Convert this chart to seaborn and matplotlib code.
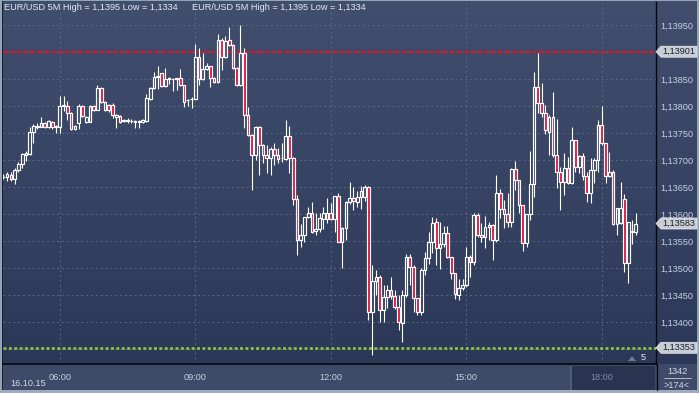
import numpy as np
import pandas as pd
import matplotlib
matplotlib.use("Agg")
import matplotlib.pyplot as plt
import matplotlib.transforms as mtransforms
from matplotlib.patches import Polygon
from matplotlib.lines import Line2D
from matplotlib.ticker import MultipleLocator, FuncFormatter
import seaborn as sns

# EUR/USD 5 minute candles, 16.10.15 04:45 - 18:45
opens = [
    1.13669, 1.13670, 1.13672, 1.13666, 1.13682, 1.13693, 1.13710, 1.13711, 1.13752, 1.13762,
    1.13762, 1.13769, 1.13761, 1.13770, 1.13762, 1.13762, 1.13801, 1.13801, 1.13787, 1.13758,
    1.13769, 1.13801, 1.13771, 1.13771, 1.13801, 1.13793, 1.13834, 1.13793, 1.13803, 1.13803,
    1.13780, 1.13782, 1.13773, 1.13773, 1.13773, 1.13771, 1.13772, 1.13771, 1.13773, 1.13814,
    1.13834, 1.13854, 1.13862, 1.13838, 1.13851, 1.13851, 1.13852, 1.13853, 1.13840, 1.13811,
    1.13813, 1.13814, 1.13891, 1.13851, 1.13869, 1.13875, 1.13853, 1.13845, 1.13923, 1.13891,
    1.13923, 1.13914, 1.13871, 1.13840, 1.13899, 1.13784, 1.13747, 1.13710, 1.13762, 1.13728,
    1.13710, 1.13704, 1.13721, 1.13710, 1.13704, 1.13703, 1.13745, 1.13704, 1.13628, 1.13553,
    1.13562, 1.13595, 1.13602, 1.13569, 1.13573, 1.13591, 1.13591, 1.13602, 1.13591, 1.13634,
    1.13549, 1.13575, 1.13623, 1.13630, 1.13623, 1.13632, 1.13632, 1.13651, 1.13419, 1.13477,
    1.13484, 1.13423, 1.13447, 1.13460, 1.13449, 1.13428, 1.13399, 1.13451, 1.13521, 1.13503,
    1.13445, 1.13419, 1.13497, 1.13519, 1.13549, 1.13586, 1.13538, 1.13545, 1.13566, 1.13521,
    1.13491, 1.13451, 1.13464, 1.13469, 1.13521, 1.13512, 1.13599, 1.13562, 1.13558, 1.13577,
    1.13580, 1.13553, 1.13640, 1.13610, 1.13601, 1.13586, 1.13684, 1.13664, 1.13617, 1.13547,
    1.13601, 1.13656, 1.13836, 1.13806, 1.13788, 1.13753, 1.13780, 1.13710, 1.13678, 1.13660,
    1.13686, 1.13658, 1.13738, 1.13688, 1.13708, 1.13671, 1.13640, 1.13682, 1.13701, 1.13766,
    1.13732, 1.13671, 1.13678, 1.13582, 1.13584, 1.13628, 1.13510, 1.13567, 1.13567,
]
highs = [
    1.13675, 1.13679, 1.13678, 1.13686, 1.13696, 1.13713, 1.13717, 1.13762, 1.13767, 1.13769,
    1.13780, 1.13771, 1.13775, 1.13773, 1.13766, 1.13819, 1.13819, 1.13809, 1.13789, 1.13766,
    1.13804, 1.13803, 1.13782, 1.13803, 1.13803, 1.13840, 1.13836, 1.13810, 1.13804, 1.13806,
    1.13786, 1.13784, 1.13777, 1.13778, 1.13777, 1.13775, 1.13775, 1.13777, 1.13823, 1.13836,
    1.13864, 1.13875, 1.13862, 1.13871, 1.13854, 1.13853, 1.13853, 1.13869, 1.13840, 1.13814,
    1.13817, 1.13916, 1.13908, 1.13899, 1.13880, 1.13875, 1.13854, 1.13934, 1.13927, 1.13930,
    1.13947, 1.13916, 1.13873, 1.13950, 1.13908, 1.13799, 1.13749, 1.13764, 1.13764, 1.13730,
    1.13728, 1.13725, 1.13732, 1.13723, 1.13732, 1.13775, 1.13764, 1.13706, 1.13636, 1.13582,
    1.13595, 1.13614, 1.13623, 1.13602, 1.13602, 1.13614, 1.13630, 1.13621, 1.13634, 1.13640,
    1.13577, 1.13625, 1.13660, 1.13651, 1.13643, 1.13653, 1.13654, 1.13653, 1.13506, 1.13497,
    1.13488, 1.13469, 1.13469, 1.13484, 1.13460, 1.13451, 1.13460, 1.13527, 1.13527, 1.13506,
    1.13445, 1.13501, 1.13530, 1.13567, 1.13595, 1.13593, 1.13586, 1.13578, 1.13578, 1.13521,
    1.13491, 1.13480, 1.13480, 1.13540, 1.13525, 1.13602, 1.13602, 1.13584, 1.13597, 1.13586,
    1.13582, 1.13673, 1.13647, 1.13627, 1.13640, 1.13686, 1.13699, 1.13664, 1.13617, 1.13601,
    1.13717, 1.13864, 1.13899, 1.13843, 1.13803, 1.13784, 1.13827, 1.13777, 1.13688, 1.13714,
    1.13706, 1.13762, 1.13738, 1.13710, 1.13714, 1.13678, 1.13704, 1.13704, 1.13775, 1.13801,
    1.13732, 1.13715, 1.13682, 1.13612, 1.13660, 1.13638, 1.13586, 1.13590, 1.13602,
]
lows = [
    1.13666, 1.13662, 1.13662, 1.13656, 1.13678, 1.13686, 1.13699, 1.13710, 1.13732, 1.13758,
    1.13762, 1.13760, 1.13760, 1.13758, 1.13751, 1.13751, 1.13791, 1.13775, 1.13757, 1.13756,
    1.13758, 1.13781, 1.13769, 1.13771, 1.13791, 1.13793, 1.13806, 1.13791, 1.13790, 1.13778,
    1.13760, 1.13769, 1.13771, 1.13769, 1.13769, 1.13760, 1.13760, 1.13769, 1.13771, 1.13812,
    1.13832, 1.13832, 1.13836, 1.13836, 1.13841, 1.13828, 1.13830, 1.13838, 1.13799, 1.13801,
    1.13797, 1.13814, 1.13840, 1.13849, 1.13867, 1.13836, 1.13843, 1.13843, 1.13867, 1.13890,
    1.13912, 1.13869, 1.13838, 1.13838, 1.13760, 1.13745, 1.13645, 1.13701, 1.13673, 1.13695,
    1.13677, 1.13673, 1.13691, 1.13695, 1.13697, 1.13701, 1.13677, 1.13617, 1.13525, 1.13540,
    1.13549, 1.13593, 1.13566, 1.13562, 1.13567, 1.13573, 1.13584, 1.13590, 1.13567, 1.13549,
    1.13501, 1.13553, 1.13619, 1.13608, 1.13614, 1.13610, 1.13625, 1.13404, 1.13340, 1.13451,
    1.13401, 1.13401, 1.13427, 1.13443, 1.13425, 1.13386, 1.13364, 1.13447, 1.13469, 1.13419,
    1.13414, 1.13414, 1.13488, 1.13508, 1.13528, 1.13506, 1.13499, 1.13540, 1.13519, 1.13480,
    1.13443, 1.13441, 1.13460, 1.13466, 1.13484, 1.13506, 1.13558, 1.13549, 1.13538, 1.13553,
    1.13516, 1.13549, 1.13593, 1.13575, 1.13577, 1.13577, 1.13645, 1.13602, 1.13532, 1.13540,
    1.13590, 1.13632, 1.13788, 1.13780, 1.13749, 1.13710, 1.13706, 1.13649, 1.13608, 1.13636,
    1.13656, 1.13656, 1.13678, 1.13677, 1.13664, 1.13623, 1.13621, 1.13658, 1.13678, 1.13728,
    1.13658, 1.13669, 1.13580, 1.13562, 1.13582, 1.13493, 1.13473, 1.13545, 1.13562,
]
closes = [
    1.13670, 1.13674, 1.13666, 1.13682, 1.13694, 1.13711, 1.13713, 1.13752, 1.13764, 1.13764,
    1.13769, 1.13761, 1.13772, 1.13761, 1.13764, 1.13801, 1.13803, 1.13787, 1.13758, 1.13764,
    1.13801, 1.13782, 1.13781, 1.13801, 1.13793, 1.13834, 1.13808, 1.13808, 1.13793, 1.13784,
    1.13784, 1.13771, 1.13774, 1.13774, 1.13772, 1.13772, 1.13771, 1.13775, 1.13816, 1.13834,
    1.13854, 1.13856, 1.13838, 1.13851, 1.13852, 1.13851, 1.13851, 1.13840, 1.13808, 1.13812,
    1.13814, 1.13891, 1.13851, 1.13869, 1.13875, 1.13853, 1.13845, 1.13923, 1.13891, 1.13921,
    1.13914, 1.13871, 1.13840, 1.13899, 1.13784, 1.13747, 1.13710, 1.13762, 1.13728, 1.13710,
    1.13704, 1.13721, 1.13710, 1.13703, 1.13705, 1.13745, 1.13704, 1.13628, 1.13553, 1.13562,
    1.13595, 1.13602, 1.13567, 1.13573, 1.13593, 1.13602, 1.13602, 1.13591, 1.13634, 1.13549,
    1.13575, 1.13623, 1.13630, 1.13625, 1.13632, 1.13643, 1.13651, 1.13419, 1.13477, 1.13484,
    1.13423, 1.13447, 1.13460, 1.13449, 1.13428, 1.13401, 1.13451, 1.13521, 1.13503, 1.13445,
    1.13419, 1.13497, 1.13519, 1.13549, 1.13584, 1.13538, 1.13545, 1.13566, 1.13521, 1.13491,
    1.13453, 1.13464, 1.13469, 1.13521, 1.13512, 1.13599, 1.13562, 1.13558, 1.13577, 1.13580,
    1.13553, 1.13640, 1.13610, 1.13601, 1.13586, 1.13684, 1.13664, 1.13617, 1.13547, 1.13601,
    1.13656, 1.13836, 1.13806, 1.13788, 1.13756, 1.13780, 1.13710, 1.13678, 1.13660, 1.13686,
    1.13658, 1.13738, 1.13688, 1.13708, 1.13671, 1.13640, 1.13682, 1.13701, 1.13766, 1.13732,
    1.13671, 1.13678, 1.13582, 1.13612, 1.13612, 1.13510, 1.13586, 1.13569, 1.13583,
]

start_time = "2015-10-16 04:45"
high_level = 1.13901
low_level = 1.13353
title = "EUR/USD 5M High = 1,1395 Low = 1,1334"
date_label = "16.10.15"
bar_total = "1342"
bars_visible = ">174<"
scale_step = "5"


def fmt_price(v):
    return f"{v:.5f}".replace(".", ",")


tag_prices = [high_level, closes[-1], low_level]


def fmt_tick(v, pos):
    # the price tags cover the scale labels they sit on
    if any(abs(v - t) < 0.00008 for t in tag_prices):
        return ""
    return fmt_price(v)


sns.set_theme(style="dark")
plt.rcParams["font.family"] = ["Liberation Sans", "DejaVu Sans"]

W, H = 699, 393
fig = plt.figure(figsize=(W / 100, H / 100), dpi=100)

# background: gradient panel, time bar, frame
img = np.zeros((H, W, 3))
shade = np.linspace(0, 1, 364)[:, None, None]
top_col = np.array([66, 78, 109]) / 255
bot_col = np.array([43, 56, 87]) / 255
img[:364] = top_col * (1 - shade) + bot_col * shade
img[364:] = np.array([62, 75, 104]) / 255
img[366:390, 570:655] = np.array([41, 52, 80]) / 255
img[366:390, 570:572] = np.array([80, 92, 118]) / 255
img[:, :2] = np.array([150, 162, 182]) / 255
img[:, 2] = np.array([25, 32, 48]) / 255
img[:1, :] = np.array([150, 162, 182]) / 255
img[390:, :] = np.array([160, 170, 188]) / 255
img[:, 697:] = np.array([150, 162, 182]) / 255
bg = fig.add_axes([0, 0, 1, 1])
bg.imshow(img, aspect="auto", extent=(0, W, H, 0), interpolation="nearest")
bg.set_xlim(0, W)
bg.set_ylim(H, 0)
bg.axis("off")

ax = fig.add_axes([3 / W, (H - 364) / H, 653 / W, 362 / H])
ax.set_facecolor("none")

o = np.array(opens)
h = np.array(highs)
l = np.array(lows)
c = np.array(closes)
x = np.arange(len(c))
body_lo = np.minimum(o, c)
body_hi = np.maximum(o, c)
down = c < o

ax.vlines(x, body_hi, h, color="white", linewidth=0.8, zorder=4)
ax.vlines(x, l, body_lo, color="white", linewidth=0.8, zorder=4)
ax.bar(x, body_hi - body_lo, bottom=body_lo, width=0.72,
       color=["#e0143c" if d else "none" for d in down],
       edgecolor="white", linewidth=0.85, zorder=5)

ax.axhline(high_level, color="#e8121e", linewidth=1.5, linestyle=(0, (2.2, 1.1)), zorder=3)
ax.axhline(low_level, color="#8ccf3c", linewidth=1.8, linestyle=(0, (1.2, 0.95)), zorder=3)

ax.set_xlim(-0.1, 173.4)
ax.set_ylim(1.13323, 1.13993)

times = pd.date_range(start_time, periods=len(c), freq="5min")
tick_pos = [i for i, t in enumerate(times) if t.minute == 0 and t.hour % 3 == 0]
ax.set_xticks(tick_pos)
ax.set_xticklabels([times[i].strftime("%H:%M") for i in tick_pos])
ax.yaxis.tick_right()
ax.yaxis.set_major_locator(MultipleLocator(0.0005))
ax.yaxis.set_major_formatter(FuncFormatter(fmt_tick))
ax.tick_params(axis="x", length=0, pad=6.8, labelsize=6.6, colors="#c6d1e4")
ax.tick_params(axis="y", length=0, pad=2.9, labelsize=6.6, colors="#c6d1e4")
ax.get_xticklabels()[-1].set_color("#7d8aa2")

ax.grid(True, color="#5a6886", linestyle=(0, (2, 3)), linewidth=0.7)
ax.set_axisbelow(True)
for side in ["top", "left"]:
    ax.spines[side].set_visible(False)
ax.spines["bottom"].set_color("#05070c")
ax.spines["bottom"].set_linewidth(1.2)
ax.spines["right"].set_color("#05070c")
ax.spines["right"].set_linewidth(1.0)
fig.add_artist(Line2D([656.5 / W, 656.5 / W], [1 - 364 / H, 1 - 390 / H],
                      transform=fig.transFigure, color="#05070c", linewidth=1.0))

# price tags on the right scale
blend = mtransforms.blended_transform_factory(ax.transAxes, ax.transData)
px = (1.13993 - 1.13323) / 362


def price_tag(price):
    dp = 5.5 * px
    pts = [(1.0, price), (1 + 5 / 653, price + dp), (1 + 41 / 653, price + dp),
           (1 + 41 / 653, price - dp), (1 + 5 / 653, price - dp)]
    ax.add_patch(Polygon(pts, closed=True, transform=blend, clip_on=False,
                         facecolor="#c9ced4", edgecolor="#e9ecef", linewidth=0.5, zorder=8))
    ax.text(1 + 6.5 / 653, price, fmt_price(price), transform=blend, ha="left", va="center",
            fontsize=6.6, color="#1b222d", zorder=9, clip_on=False)


for t in tag_prices:
    price_tag(t)

fig.text(4 / W, 1 - 8 / H, title, fontsize=6.6, color="#e4e9f2", va="center", ha="left")
fig.text(192 / W, 1 - 8 / H, title, fontsize=6.6, color="#e4e9f2", va="center", ha="left")
fig.text(10 / W, 1 - 383 / H, date_label, fontsize=6.6, color="#d2dae8", va="center", ha="left")
fig.text(641 / W, 1 - 358 / H, scale_step, fontsize=6.6, color="#e4e9f2", va="center", ha="left")
fig.add_artist(Polygon([(628 / W, 1 - 361 / H), (636 / W, 1 - 361 / H), (632 / W, 1 - 356 / H)],
                       closed=True, transform=fig.transFigure, facecolor="#6f7b93", edgecolor="none"))
fig.text(677 / W, 1 - 372 / H, bar_total, fontsize=6.6, color="#d2dae8", va="center", ha="center")
fig.add_artist(Line2D([664 / W, 691 / W], [1 - 378 / H, 1 - 378 / H],
                      transform=fig.transFigure, color="#c6cfdc", linewidth=0.6))
fig.text(677 / W, 1 - 385 / H, bars_visible, fontsize=6.6, color="#d2dae8", va="center", ha="center")

fig.savefig("out.png", dpi=100)
